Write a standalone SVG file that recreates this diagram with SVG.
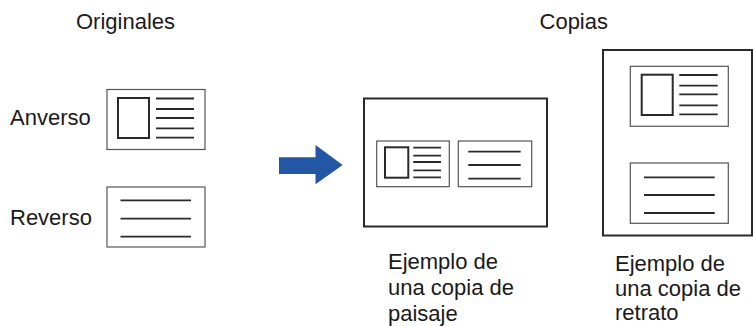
<svg xmlns="http://www.w3.org/2000/svg" width="753" height="326" viewBox="0 0 753 326">
<style>
text{font-family:"Liberation Sans",Arial,sans-serif;font-size:22px;fill:#1a1a1a}
.card{fill:#fff;stroke:#555;stroke-width:1.2}
.page{fill:#fff;stroke:#2a2a2a;stroke-width:2}
.pic{fill:#fff;stroke:#2a2a2a;stroke-width:2}
.ln{stroke:#2a2a2a;stroke-width:1.8}
</style>
<rect width="753" height="326" fill="#fff"/>
<g id="labels">
<text x="76" y="29">Originales</text>
<text x="608" y="29" text-anchor="end">Copias</text>
<text x="10" y="125">Anverso</text>
<text x="10" y="225">Reverso</text>
</g>
<g id="anverso">
<rect class="card" x="107" y="89.5" width="98" height="60"/>
<rect class="pic" x="118" y="98" width="31" height="40"/>
<path class="ln" d="M156 98.5H194M156 109H194M156 118H194M156 128.3H194M156 137.7H194"/>
</g>
<g id="reverso">
<rect class="card" x="107" y="187" width="98" height="60"/>
<path class="ln" d="M120.5 200.3H191M120.5 218.7H191M120.5 236.7H191"/>
</g>
<g id="connectors">
<polygon points="279,157.3 315.5,157.3 315.5,145 342.7,165 315.5,184.3 315.5,174 279,174" fill="#2356a5"/>
</g>
<g id="landscape">
<rect class="page" x="364" y="98.5" width="183" height="128"/>
<rect class="card" x="376.7" y="141" width="72.6" height="45.7"/>
<rect class="pic" x="385" y="147.3" width="23.3" height="30.4"/>
<path class="ln" d="M413.3 147.7H441M413.3 155.7H441M413.3 162H441M413.3 170.3H441M413.3 177.3H441"/>
<rect class="card" x="458.3" y="141" width="73.4" height="45.7"/>
<path class="ln" d="M468.3 151.7H520.7M468.3 165H520.7M468.3 178.7H520.7"/>
</g>
<g id="portrait">
<rect class="page" x="603" y="50" width="149" height="185.5"/>
<rect class="card" x="630.3" y="66.3" width="98" height="60"/>
<rect class="pic" x="641.7" y="74.7" width="31" height="40.3"/>
<path class="ln" d="M679.3 75H717.7M679.3 85.7H717.7M679.3 94.3H717.7M679.3 105.3H717.7M679.3 114.3H717.7"/>
<rect class="card" x="630.3" y="163" width="98" height="60.3"/>
<path class="ln" d="M644 177.3H714.7M644 195H714.7M644 213H714.7"/>
</g>
<g id="captions">
<text x="388" y="269">Ejemplo de</text>
<text x="388" y="295">una copia de</text>
<text x="388" y="321">paisaje</text>
<text x="615" y="271">Ejemplo de</text>
<text x="615" y="296">una copia de</text>
<text x="615" y="320">retrato</text>
</g>
</svg>
